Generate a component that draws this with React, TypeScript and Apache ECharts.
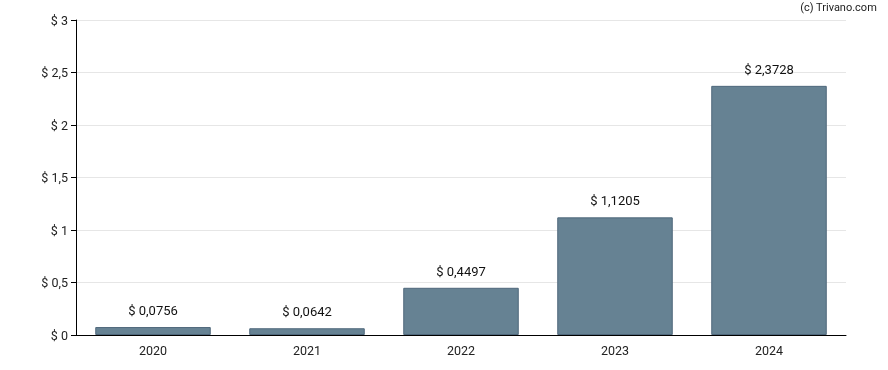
import React, { useEffect, useRef } from "react";
import * as echarts from "echarts";

const categories = ["2020", "2021", "2022", "2023", "2024"];
const values = [0.0756, 0.0642, 0.4497, 1.1205, 2.3728];
const yTicks = [0, 0.5, 1, 1.5, 2, 2.5, 3];

const fmt = (v: number, digits?: number) => {
  const s = digits === undefined ? String(v) : v.toFixed(digits);
  return "$ " + s.replace(".", ",");
};

export default function App() {
  const ref = useRef<HTMLDivElement>(null);
  useEffect(() => {
    if (!ref.current) return;
    const chart = echarts.init(ref.current, null, { renderer: "svg" });
    chart.setOption({
      animation: false,
      textStyle: { fontFamily: "Roboto, Arial, sans-serif" },
      graphic: [
        {
          type: "text",
          right: 11,
          top: 2,
          style: { text: "(c) Trivano.com", fill: "#222", font: "11px Roboto, Arial, sans-serif" },
        },
      ],
      grid: { left: 76, right: 42, top: 20, bottom: 35 },
      xAxis: {
        type: "category",
        data: categories,
        axisLine: { lineStyle: { color: "#000" } },
        axisTick: { alignWithLabel: true, length: 5, lineStyle: { color: "#000" } },
        axisLabel: { color: "#222", fontSize: 12.5, margin: 9 },
      },
      yAxis: {
        type: "value",
        min: 0,
        max: yTicks[yTicks.length - 1],
        interval: yTicks[1] - yTicks[0],
        axisLine: { show: true, lineStyle: { color: "#000" } },
        axisTick: { show: true, length: 5, lineStyle: { color: "#000" } },
        axisLabel: { color: "#222", fontSize: 12.5, margin: 8, formatter: (v: number) => fmt(v) },
        splitLine: { lineStyle: { color: "#e6e6e6" } },
      },
      series: [
        {
          type: "bar",
          data: values,
          barWidth: "75%",
          itemStyle: { color: "#668293", borderColor: "#4f677b", borderWidth: 1 },
          label: {
            show: true,
            position: "top",
            distance: 10,
            color: "#111",
            fontSize: 13,
            formatter: (p: any) => fmt(p.value, 4),
          },
        },
      ],
    });
    return () => chart.dispose();
  }, []);
  return (
    <div
      ref={ref}
      style={{ position: "fixed", left: 0, top: 0, width: 888, height: 370 }}
    />
  );
}
